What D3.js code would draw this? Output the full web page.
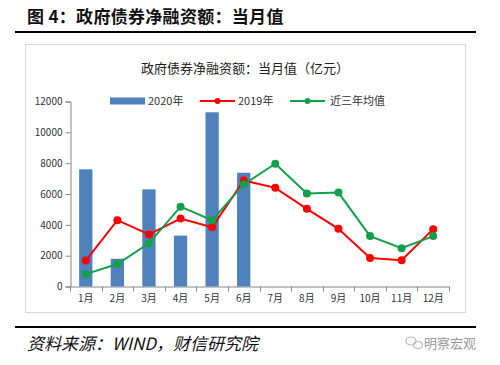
<!DOCTYPE html>
<html>
<head>
<meta charset="utf-8">
<script src="https://cdn.jsdelivr.net/npm/d3@7"></script>
<style>
  body { margin: 0; background: #fff; }
  svg { display: block; }
</style>
</head>
<body>
<div id="chart"></div>
<script>
const months = ['1月', '2月', '3月', '4月', '5月', '6月', '7月', '8月', '9月', '10月', '11月', '12月']
const bars2020 = [7600, 1800, 6300, 3300, 11300, 7380]
const line2019 = [1680, 4300, 3380, 4410, 3840, 6880, 6400, 5040, 3740, 1850, 1700, 3720]
const lineAvg = [800, 1460, 2800, 5180, 4300, 6620, 7960, 6030, 6090, 3270, 2480, 3270]
const yTicks = [0, 2000, 4000, 6000, 8000, 10000, 12000]
const seriesNames = ['2020年', '2019年', '近三年均值']

const width = 500
const height = 365
const blue = '#4f81bd'
const red = '#ff0000'
const green = '#12a04b'
const cjk = '"Noto Sans CJK SC", "Noto Sans", sans-serif'

const svg = d3.select('#chart')
    .append('svg')
    .attr('width', width)
    .attr('height', height)

//header and footer
svg.append('text')
    .attr('x', 27).attr('y', 23)
    .attr('font-family', cjk)
    .attr('font-weight', 'bold')
    .attr('font-size', 17)
    .attr('letter-spacing', 0.3)
    .attr('fill', '#111')
    .text('图 4：政府债券净融资额：当月值')

svg.append('line')
    .attr('x1', 15).attr('x2', 476)
    .attr('y1', 32).attr('y2', 32)
    .attr('stroke', '#000').attr('stroke-width', 2)

svg.append('rect')
    .attr('x', 25.5).attr('y', 44.5)
    .attr('width', 440).attr('height', 268)
    .attr('fill', 'none')
    .attr('stroke', '#d9d9d9')

svg.append('line')
    .attr('x1', 15).attr('x2', 476)
    .attr('y1', 327).attr('y2', 327)
    .attr('stroke', '#000').attr('stroke-width', 2)

svg.append('text')
    .attr('x', 27).attr('y', 350)
    .attr('font-family', cjk)
    .attr('font-style', 'italic')
    .attr('font-size', 17)
    .attr('fill', '#111')
    .text('资料来源：WIND，财信研究院')

//watermark
const wm = svg.append('g').attr('fill', 'none').attr('stroke', '#b5b5b5').attr('stroke-width', 1.2)
wm.append('ellipse').attr('cx', 411).attr('cy', 341).attr('rx', 5).attr('ry', 4)
wm.append('ellipse').attr('cx', 418).attr('cy', 345).attr('rx', 4.5).attr('ry', 3.5)
svg.append('text')
    .attr('x', 476).attr('y', 348)
    .attr('text-anchor', 'end')
    .attr('font-family', cjk)
    .attr('font-size', 13)
    .attr('fill', '#9a9a9a')
    .text('明察宏观')

svg.append('text')
    .attr('x', 245).attr('y', 73)
    .attr('text-anchor', 'middle')
    .attr('font-family', cjk)
    .attr('font-size', 13)
    .attr('fill', '#222')
    .text('政府债券净融资额：当月值（亿元）')

//scales
const x = d3.scaleBand()
    .domain(months)
    .range([70, 449])
const y = d3.scaleLinear()
    .domain([0, 12000])
    .range([286.5, 101.5])

//axes
const yAxis = d3.axisLeft(y)
    .tickValues(yTicks)
    .tickSize(5)
    .tickFormat(d3.format('d'))
const gy = svg.append('g')
    .attr('transform', 'translate(70.5,0)')
    .call(yAxis)
gy.select('.domain').attr('stroke', '#868686')
gy.selectAll('.tick line').attr('stroke', '#868686')
gy.selectAll('.tick text')
    .attr('font-family', cjk)
    .attr('font-size', 10)
    .attr('fill', '#333')
    .attr('x', -8)

const xAxis = d3.axisBottom(x).tickSize(0).tickPadding(8)
const gx = svg.append('g')
    .attr('transform', 'translate(0,286.5)')
    .call(xAxis)
gx.select('.domain').attr('stroke', '#868686')
gx.selectAll('.tick text')
    .attr('font-family', cjk)
    .attr('font-size', 10)
    .attr('fill', '#333')
gx.selectAll('.bound')
    .data(d3.range(months.length + 1))
    .enter()
    .append('line')
    .attr('x1', (i) => Math.round(70 + i * x.step()) + 0.5)
    .attr('x2', (i) => Math.round(70 + i * x.step()) + 0.5)
    .attr('y1', 0).attr('y2', 5)
    .attr('stroke', '#868686')

//bars
const barW = x.bandwidth() * 0.42
svg.append('g')
    .selectAll('rect')
    .data(bars2020)
    .enter()
    .append('rect')
    .attr('x', (d, i) => x(months[i]) + (x.bandwidth() - barW) / 2)
    .attr('y', (d) => y(d))
    .attr('width', barW)
    .attr('height', (d) => y(0) - y(d))
    .attr('fill', blue)

//lines
const line = d3.line()
    .x((d, i) => x(months[i]) + x.bandwidth() / 2)
    .y((d) => y(d))

const drawSeries = (data, color) => {
    svg.append('path')
        .datum(data)
        .attr('d', line)
        .attr('fill', 'none')
        .attr('stroke', color)
        .attr('stroke-width', 2)
    svg.append('g')
        .selectAll('circle')
        .data(data)
        .enter()
        .append('circle')
        .attr('cx', (d, i) => x(months[i]) + x.bandwidth() / 2)
        .attr('cy', (d) => y(d))
        .attr('r', 4)
        .attr('fill', color)
}
drawSeries(line2019, red)
drawSeries(lineAvg, green)

//legend
const legend = svg.append('g').attr('transform', 'translate(0,101)')
legend.append('rect')
    .attr('x', 110).attr('y', -3.5)
    .attr('width', 35).attr('height', 7)
    .attr('fill', blue)
const legendLines = [[200, red], [290, green]]
legendLines.forEach(([lx, color]) => {
    legend.append('line')
        .attr('x1', lx).attr('x2', lx + 35)
        .attr('y1', 0).attr('y2', 0)
        .attr('stroke', color).attr('stroke-width', 2)
    legend.append('circle')
        .attr('cx', lx + 17.5).attr('cy', 0).attr('r', 3)
        .attr('fill', color)
})
legend.selectAll('text')
    .data(seriesNames)
    .enter()
    .append('text')
    .attr('x', (d, i) => [148, 238, 330][i])
    .attr('y', 4)
    .attr('font-family', cjk)
    .attr('font-size', 11)
    .attr('fill', '#333')
    .text((d) => d)
</script>
</body>
</html>
